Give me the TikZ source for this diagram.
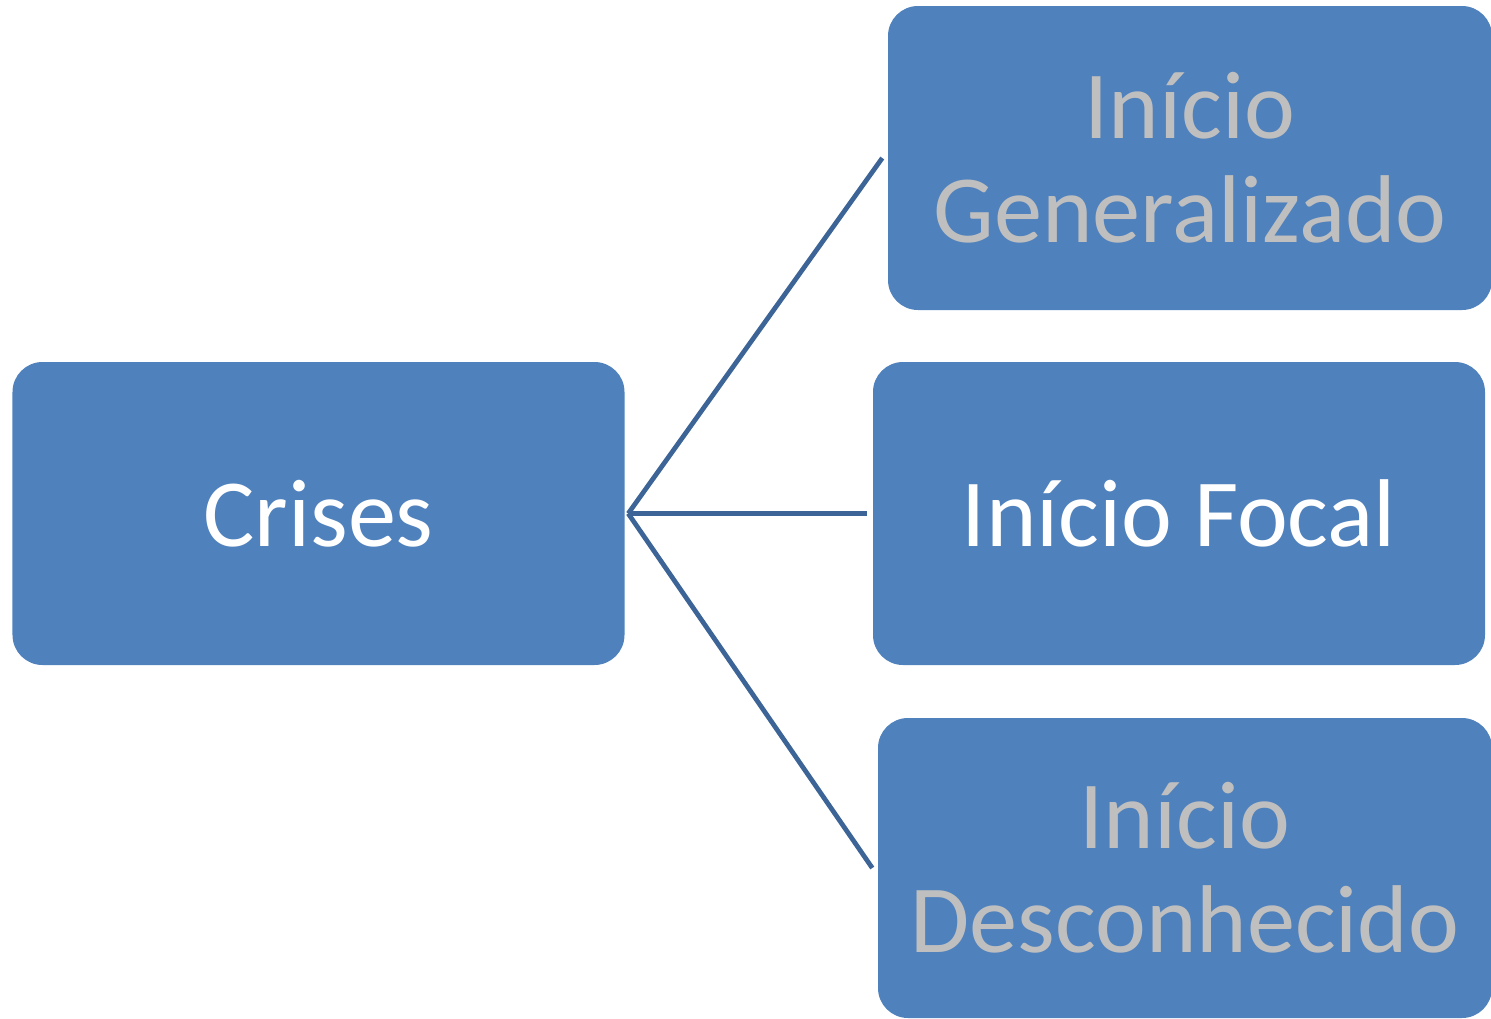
\documentclass[tikz,border=0pt]{standalone}
\usepackage{fontspec}
\setmainfont{Carlito}
\usepackage{xcolor}
\definecolor{boxblue}{HTML}{4F81BD}
\definecolor{linkblue}{HTML}{3C6496}
\definecolor{softgray}{HTML}{BFBFBF}
\usepackage{tikz}
\tikzset{
    crisisbox/.style={fill=boxblue, rounded corners=0.3cm, minimum width=6.12cm, minimum height=3.03cm, align=center, inner sep=0pt, font=\fontsize{27.4}{29.6}\selectfont},
    linkline/.style={draw=linkblue, line width=1.35pt}
}

\begin{document}
\begin{tikzpicture}

    \useasboundingbox (0,0) rectangle (14.91,-10.18);

    \node[crisisbox, text=white] (crises) at (3.185,-5.135) {Crises};

    \node[crisisbox, text=softgray, minimum width=6.04cm, minimum height=3.04cm] (generalizado) at (11.90,-1.58) {Início\\Generalizado};
    \node[crisisbox, text=white] (focal) at (11.79,-5.135) {Início Focal};
    \node[crisisbox, text=softgray, minimum width=6.14cm, minimum height=3.00cm] (desconhecido) at (11.85,-8.68) {Início\\Desconhecido};

    \coordinate (hub) at ([xshift=0.03cm]crises.east);

    \draw[linkline] (hub) -- ([xshift=-0.05cm]generalizado.west);
    \draw[linkline] (hub) -- ([xshift=-0.05cm]focal.west);
    \draw[linkline] (hub) -- ([xshift=-0.05cm]desconhecido.west);

\end{tikzpicture}
\end{document}
